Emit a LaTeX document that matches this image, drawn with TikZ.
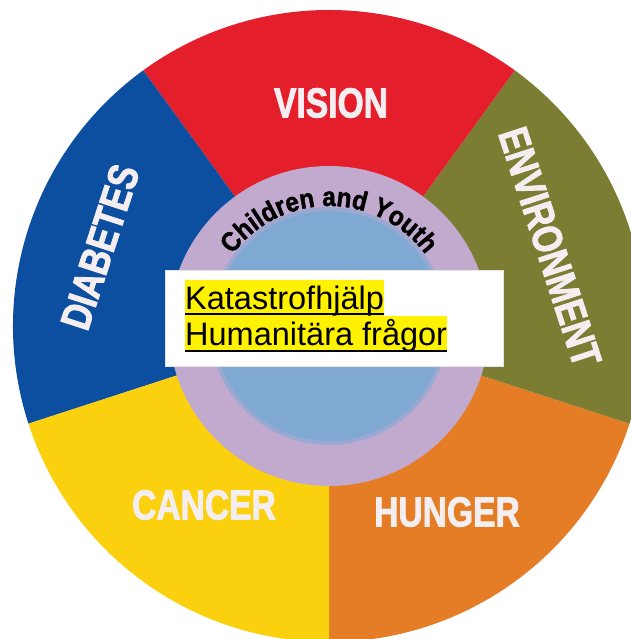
\documentclass[tikz,border=0pt]{standalone}
\usepackage{fontspec}
\setmainfont{Liberation Sans}
\newfontfamily\segfont[FakeStretch=0.8,FakeBold=2]{Liberation Sans}
\newfontfamily\ringfont[FakeStretch=0.9,FakeBold=1.5]{Liberation Sans}
\usepackage{tikz}
\usetikzlibrary{positioning,decorations.text}
\definecolor{hungerorange}{HTML}{E47D25}
\definecolor{envgreen}{HTML}{7B7D33}
\definecolor{visionred}{HTML}{E41F2B}
\definecolor{diabblue}{HTML}{0C4EA0}
\definecolor{canceryellow}{HTML}{FBD00E}
\definecolor{ringlilac}{HTML}{C2AACF}
\definecolor{coreblue}{HTML}{7FA8D3}
\definecolor{labelwhite}{HTML}{F4EEF0}
\definecolor{hlyellow}{HTML}{FFF200}
\newcommand\ringtext{\ringfont\bfseries\fontsize{27}{30}\selectfont}
\tikzstyle{segment}=[text=labelwhite,inner sep=0pt,font=\segfont\bfseries\fontsize{42}{42}\selectfont]
\tikzstyle{topicbox}=[fill=white,draw=black!10,minimum width=338pt,minimum height=96pt,inner sep=0pt]
\tikzstyle{topic}=[fill=hlyellow,inner sep=0pt,text height=29.5pt,text depth=6pt,font=\fontsize{32.5}{36}\selectfont]
\tikzstyle{underline}=[line width=1.4pt,black]

\begin{document}
\begin{tikzpicture}[x=1pt,y=1pt]
    \useasboundingbox (-329,-313) rectangle (301,326);
    \fill[white] (-329,-313) rectangle (301,326);
    \coordinate (c) at (0,0);
    % five sectors
    \fill[hungerorange] (c) -- (-90:316pt) arc[start angle=-90,end angle=-18,radius=316pt] -- cycle;
    \fill[envgreen] (c) -- (-18:316pt) arc[start angle=-18,end angle=54,radius=316pt] -- cycle;
    \fill[visionred] (c) -- (54:316pt) arc[start angle=54,end angle=126,radius=316pt] -- cycle;
    \fill[diabblue] (c) -- (126:316pt) arc[start angle=126,end angle=198,radius=316pt] -- cycle;
    \fill[canceryellow] (c) -- (198:316pt) arc[start angle=198,end angle=270,radius=316pt] -- cycle;
    % inner rings
    \fill[ringlilac] (c) circle[radius=160pt];
    \fill[ringlilac!40!coreblue] (c) circle[radius=119pt];
    \fill[coreblue] (c) circle[radius=115pt];
    \path[decorate,decoration={text along path,text align=center,
        text={|\ringtext|Children and Youth}}]
      (160:120pt) arc[start angle=160,end angle=20,radius=120pt];
    % sector labels
    \node [segment] (vision) at (2,223) {VISION};
    \node [segment,rotate=-72] (environment) at (221,79) {ENVIRONMENT};
    \node [segment] (hunger) at (118,-186) {HUNGER};
    \node [segment] (cancer) at (-125,-179) {CANCER};
    \node [segment,rotate=72] (diabetes) at (-229,79) {DIABETES};
    % box in the middle
    \node [topicbox] (box) at (5,8) {};
    \node [topic,anchor=base west] (relief) at (-144,16) {Katastrofhjälp};
    \node [topic,anchor=base west] (humanitarian) at (-144,-20) {Humanitära frågor};
    \draw [underline] ([yshift=-4pt]relief.base west) -- ([yshift=-4pt]relief.base east);
    \draw [underline] ([yshift=-5pt]humanitarian.base west) -- ([yshift=-5pt]humanitarian.base east);
\end{tikzpicture}
\end{document}
